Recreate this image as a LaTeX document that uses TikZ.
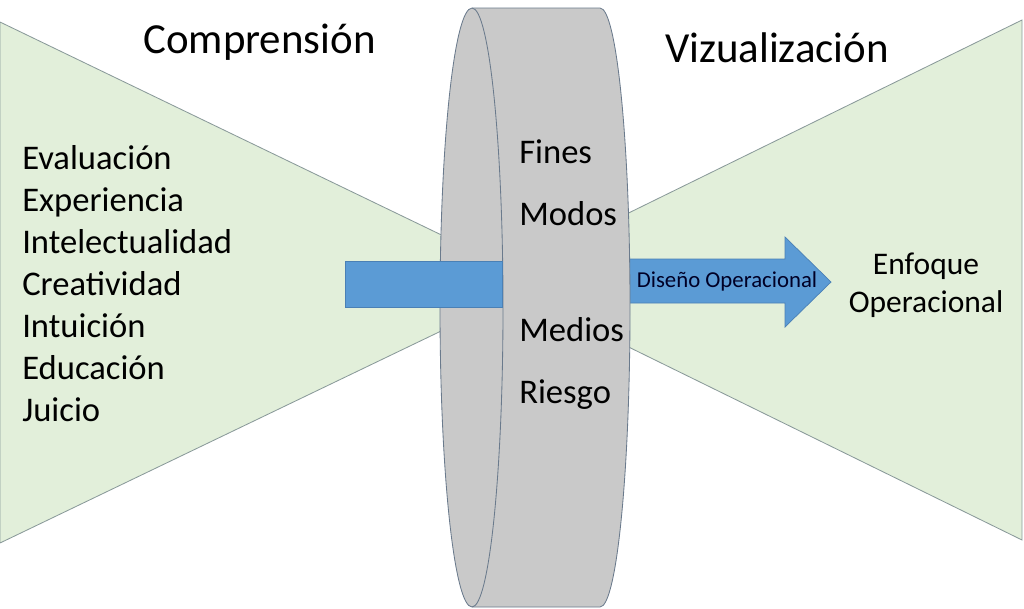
\documentclass[tikz,border=0pt]{standalone}
\usepackage{fontspec}
\setmainfont{Carlito}
\usepackage{xcolor}
\usetikzlibrary{arrows.meta}
\usetikzlibrary{positioning}
\definecolor{conegreen}{HTML}{E2EFDA}
\definecolor{coneedge}{HTML}{8A9A9A}
\definecolor{drumgrey}{HTML}{C9C9C9}
\definecolor{drumedge}{HTML}{6A7A8C}
\definecolor{flowblue}{HTML}{5B9BD5}
\definecolor{flowedge}{HTML}{4A80B5}
\tikzset{cone/.style = {fill=conegreen, draw=coneedge, line width=0.6pt}}
\tikzset{drum/.style = {fill=drumgrey, draw=drumedge, line width=0.6pt}}
\tikzset{flow/.style = {fill=flowblue, draw=flowedge, line width=0.5pt}}
\tikzset{word/.style = {inner sep=0pt, anchor=base west, font=\fontsize{24.6}{29.9}\selectfont}}
\tikzset{title/.style = {inner sep=0pt, anchor=base west, font=\fontsize{30.5}{36}\selectfont}}

\begin{document}
\begin{tikzpicture}[x=0.025cm, y=-0.025cm]
			\useasboundingbox (0,0) rectangle (1024,608);
			% the two cones
			\coordinate (lt) at (0,22);
			\coordinate (lb) at (0,543);
			\coordinate (la) at (541,283);
			\coordinate (rt) at (1022,20);
			\coordinate (rb) at (1022,540);
			\coordinate (ra) at (492,280);
			\draw [cone] (lt) -- (la) -- (lb) -- cycle;
			\draw [cone] (rt) -- (ra) -- (rb) -- cycle;
			% arrow out of the drum
			\draw [flow] (600,259) -- (785,259) -- (785,237) -- (831,282) -- (785,327) -- (785,303) -- (600,303) -- cycle;
			% the drum
			\coordinate (dtl) at (472,8);
			\coordinate (dtr) at (600,8);
			\coordinate (dbl) at (472,607);
			\draw [drum] (dtl) -- (dtr) arc [start angle=-90, end angle=90, x radius=30, y radius=299.5]
				-- (dbl) arc [start angle=90, end angle=270, x radius=32, y radius=299.5] -- cycle;
			\draw [drumedge, line width=0.6pt] (dtl) arc [start angle=-90, end angle=90, x radius=31, y radius=299.5];
			% bar into the drum
			\draw [flow] (345,261) rectangle (502,307);
			% texts
			\node [title] (compr) at (143,53) {Comprensión};
			\node [title] (vizu) at (665,62) {Vizualización};
			\node [word, align=left, anchor=north west] (list) at (22,145) {Evaluación\\Experiencia\\Intelectualidad\\Creatividad\\Intuición\\Educación\\Juicio};
			\node [word] (fines) at (519,163) {Fines};
			\node [word] (modos) at (519,225) {Modos};
			\node [word] (medios) at (519,341) {Medios};
			\node [word] (riesgo) at (519,403) {Riesgo};
			\node [inner sep=0pt, anchor=base, font=\fontsize{16.2}{19}\selectfont, text=black!85!blue] (diseno) at (727,287) {Diseño Operacional};
			\node [inner sep=0pt, align=center, font=\fontsize{22.4}{26.7}\selectfont] (enfoque) at (926,285) {Enfoque\\Operacional};
		\end{tikzpicture}
\end{document}
